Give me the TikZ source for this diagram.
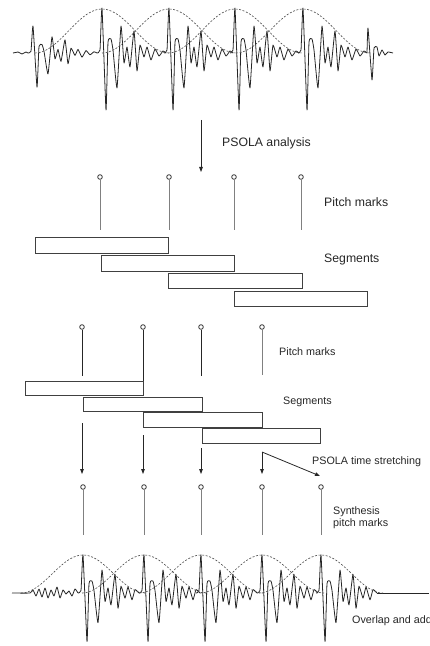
\documentclass[tikz,border=0pt]{standalone}
\usepackage{fontspec}
\setmainfont{Liberation Sans}
\usetikzlibrary{arrows.meta}
\begin{document}
\begin{tikzpicture}[x=1bp,y=-1bp,
  wave/.style={line width=0.8bp, draw=black!85, line join=round},
  bell/.style={line width=0.6bp, draw=black!70, dash pattern=on 2bp off 1.6bp},
  pm/.style={circle, draw=black!80, line width=0.8bp, inner sep=0pt, minimum size=4.6bp, fill=white},
  stem/.style={line width=1bp, draw=black!50},
  stemdark/.style={line width=0.9bp, draw=black!85},
  segbox/.style={draw=black!75, line width=0.9bp, inner sep=0pt, outer sep=0pt, anchor=north west},
  arr/.style={line width=0.8bp, draw=black!85, -{Triangle[length=5bp,width=3.6bp]}},
  lab/.style={anchor=west, inner sep=0pt, text=black!85, font=\fontsize{12.3}{14}\selectfont},
  labs/.style={anchor=west, inner sep=0pt, text=black!85, align=left, font=\fontsize{10.8}{11.7}\selectfont},
  pulse/.pic={\draw[wave] plot[smooth, tension=0.25] coordinates {(-5,0) (-2,-3) (0,-45) (4,57) (6,-11) (9,-14) (11,-3) (15,35) (19,-27) (22,10) (25,-6) (28,14) (32,-22) (35,18) (38,-8) (42,4) (45,-6) (49,7) (53,-4) (57,3) (61,-2) (64,0)};},
  pulseshort/.pic={\draw[wave] plot[smooth, tension=0.25] coordinates {(-5,0) (-2,-3) (0,-45) (4,57) (6,-11) (9,-14) (11,-3) (15,35) (19,-27) (22,10) (25,-6) (28,14) (32,-22) (35,18) (38,-8) (42,6) (45,-7) (49,8) (52,-4) (56,0)};}
]
\useasboundingbox (0,0) rectangle (429,646);
\clip (0,0) rectangle (429,646);

% ---------- top analysis waveform ----------
\draw[wave] (13,53) -- (18,52) -- (22,54) -- (26,52) -- (28,53);
\pic[yscale=0.6] at (33,53) {pulse};
\foreach \c in {102,169,235,303} { \pic at (\c,53) {pulse}; }
\draw[wave] plot[smooth, tension=0.25] coordinates {(367,53) (368,28) (372,80) (374,48) (377,47) (379,56) (382,50) (385,55) (388,52) (393,53)};
\foreach \c in {102,169,235,303} {
  \draw[bell] plot[domain=-67:67, samples=41, smooth] ({\c+\x},{53-22*(1+cos(180*\x/67))});
}

% ---------- analysis arrow ----------
\coordinate (anaS) at (201,120);
\coordinate (anaT) at (201,172);
\draw[arr] (anaS) -- (anaT);
\node[lab] (anaL) at (222,143) {PSOLA analysis};

% ---------- analysis pitch marks ----------
\foreach \x/\i in {100/1,169/2,234/3,301/4} {
  \coordinate (a\i e) at (\x,230);
  \node[pm] (a\i) at (\x,177) {};
  \draw[stem] (a\i) -- (a\i e);
}
\node[lab] (pmL1) at (324,202) {Pitch marks};

% ---------- analysis segments ----------
\node[segbox, minimum width=133bp, minimum height=16bp] (sa1) at (35,237) {};
\node[segbox, minimum width=133bp, minimum height=16bp] (sa2) at (101,255) {};
\node[segbox, minimum width=134bp, minimum height=15bp] (sa3) at (168,273) {};
\node[segbox, minimum width=133bp, minimum height=15bp] (sa4) at (234,291) {};
\node[lab] (segL1) at (324,259) {Segments};

% ---------- second pitch marks ----------
\foreach \x/\i/\e/\s in {82/1/376/stemdark,143/2/381/stemdark,201/3/376/stemdark,262/4/375/stem} {
  \coordinate (b\i e) at (\x,\e);
  \node[pm] (b\i) at (\x,327) {};
  \draw[\s] (b\i) -- (b\i e);
}
\node[labs] (pmL2) at (279,352) {Pitch marks};

% ---------- second segments ----------
\node[segbox, minimum width=118bp, minimum height=14bp] (sb1) at (25,381) {};
\node[segbox, minimum width=119bp, minimum height=14bp] (sb2) at (83,397) {};
\node[segbox, minimum width=119bp, minimum height=15bp] (sb3) at (143,412) {};
\node[segbox, minimum width=118bp, minimum height=15bp] (sb4) at (202,428) {};
\node[labs] (segL2) at (283,402) {Segments};

% ---------- time stretching arrows ----------
\foreach \x/\i/\s in {82/1/423,143/2/435,201/3/448,262/4/452} {
  \coordinate (c\i s) at (\x,\s);
  \coordinate (c\i t) at (\x,474);
  \draw[arr] (c\i s) -- (c\i t);
}
\coordinate (c5t) at (320,476);
\draw[arr] (c4s) -- (c5t);
\node[labs] (tsL) at (312,462) {PSOLA time stretching};

% ---------- synthesis pitch marks ----------
\foreach \x/\i in {83/1,144/2,201/3,262/4,321/5} {
  \coordinate (y\i e) at (\x,535);
  \node[pm] (y\i) at (\x,487) {};
  \draw[stem] (y\i) -- (y\i e);
}
\node[labs] (synL) at (333,518) {Synthesis\\pitch marks};

% ---------- synthesis waveform ----------
\draw[wave] plot[smooth, tension=0.3] coordinates {(12,593) (30,593) (33,590) (36,596) (39,589) (42,597) (45,588) (48,598) (51,590) (54,596) (57,587) (60,598) (63,590) (66,594) (69,591) (72,596) (75,589) (78,593)};
\foreach \c in {83,144,201,262,321} { \pic[yscale=0.85] at (\c,593) {pulseshort}; }
\draw[wave] (377,593) -- (429,593);
\foreach \c in {83,144,201,262,321} {
  \draw[bell] plot[domain=-62:62, samples=41, smooth] ({\c+\x},{593-19*(1+cos(180*\x/62))});
}
\node[labs] (olaL) at (352,621) {Overlap and add};
\end{tikzpicture}
\end{document}
